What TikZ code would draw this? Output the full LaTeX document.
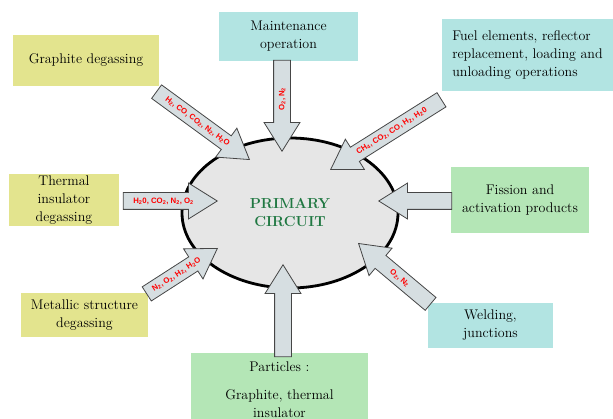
\documentclass[tikz,border=0pt]{standalone}
\usepackage{fontspec}
\newfontfamily\gasfont{Liberation Sans}
\usetikzlibrary{shapes.geometric,shapes.arrows}

\definecolor{boxyellow}{RGB}{227,228,142}
\definecolor{boxcyan}{RGB}{178,228,226}
\definecolor{boxgreen}{RGB}{180,230,182}
\definecolor{circfill}{RGB}{230,230,230}
\definecolor{arrfill}{RGB}{214,222,225}
\definecolor{arrline}{RGB}{70,70,70}
\definecolor{titlegreen}{RGB}{32,120,66}

\newcommand{\gsub}[1]{\textsubscript{#1}}

\tikzset{
  srcbox/.style={inner sep=2pt, align=center, font=\fontsize{14}{18}\selectfont},
  gasarrow/.style={single arrow, draw=arrline, fill=arrfill, line width=0.8pt,
    single arrow head extend=9.5pt, single arrow tip angle=64,
    inner xsep=0.5pt, inner ysep=0pt, text height=10.3pt, text depth=5.7pt,
    text=red, font=\gasfont\bfseries\fontsize{7.8}{8}\selectfont, anchor=tip}
}

\begin{document}
\begin{tikzpicture}[x=1pt,y=-1pt]
  \useasboundingbox (0,0) rectangle (613,419);

  % primary circuit
  \node[ellipse, draw=black, line width=2.8pt, fill=circfill, minimum width=216pt,
    minimum height=150pt, inner sep=0pt, align=center, text=titlegreen,
    font=\bfseries\fontsize{14.5}{18}\selectfont] (pc) at (290,213) {PRIMARY\\CIRCUIT};

  % sources
  \node[srcbox, fill=boxyellow, minimum width=146pt, minimum height=51pt] (gra) at (86,60.5) {Graphite degassing};
  \node[srcbox, fill=boxcyan, minimum width=139pt, minimum height=49pt] (mnt) at (288.5,36.5) {Maintenance\\operation};
  \node[srcbox, fill=boxcyan, minimum width=171pt, minimum height=72pt, align=left] (fuel) at (527.5,55) {Fuel elements, reflector\\replacement, loading and\\unloading operations};
  \node[srcbox, fill=boxyellow, minimum width=110pt, minimum height=52pt] (thr) at (64,200) {Thermal\\insulator\\degassing};
  \node[srcbox, fill=boxgreen, minimum width=138pt, minimum height=66pt] (fis) at (520,200) {Fission and\\activation products};
  \node[srcbox, fill=boxyellow, minimum width=127pt, minimum height=44pt] (met) at (84.5,315) {Metallic structure\\degassing};
  \node[srcbox, fill=boxcyan, minimum width=125pt, minimum height=45pt] (wel) at (490.5,325.5) {Welding,\\junctions};
  \node[srcbox, fill=boxgreen, minimum width=177pt, minimum height=74pt] (par) at (279.5,390) {Particles :\\[10pt]Graphite, thermal\\insulator};

  % gas and particle inlets
  \node[gasarrow, minimum height=115pt, rotate=-36.2] (agra) at (250,160) {H\gsub{2}, CO, CO\gsub{2}, N\gsub{2}, H\gsub{2}O};
  \node[gasarrow, minimum height=91pt, rotate=90, shape border rotate=180] (amnt) at (282,152) {O\gsub{2}, N\gsub{2}};
  \node[gasarrow, minimum height=131pt, rotate=32.2, shape border rotate=180] (afuel) at (330,170) {CH\gsub{4}, CO\gsub{2}, CO, H\gsub{2}, H\gsub{2}0};
  \node[gasarrow, minimum height=94pt] (athr) at (218,201) {H\gsub{2}0, CO\gsub{2}, N\gsub{2}, O\gsub{2}};
  \node[gasarrow, minimum height=73pt, shape border rotate=180] (afis) at (378,201) {};
  \node[gasarrow, minimum height=84pt, rotate=32.8] (amet) at (218,248) {N\gsub{2}, O\gsub{2}, H\gsub{2}, H\gsub{2}O};
  \node[gasarrow, minimum height=92pt, rotate=90] (apar) at (283,264) {};
  \node[gasarrow, minimum height=94pt, rotate=-40, shape border rotate=180] (awel) at (358,243) {O\gsub{2}, N\gsub{2}};
\end{tikzpicture}
\end{document}
